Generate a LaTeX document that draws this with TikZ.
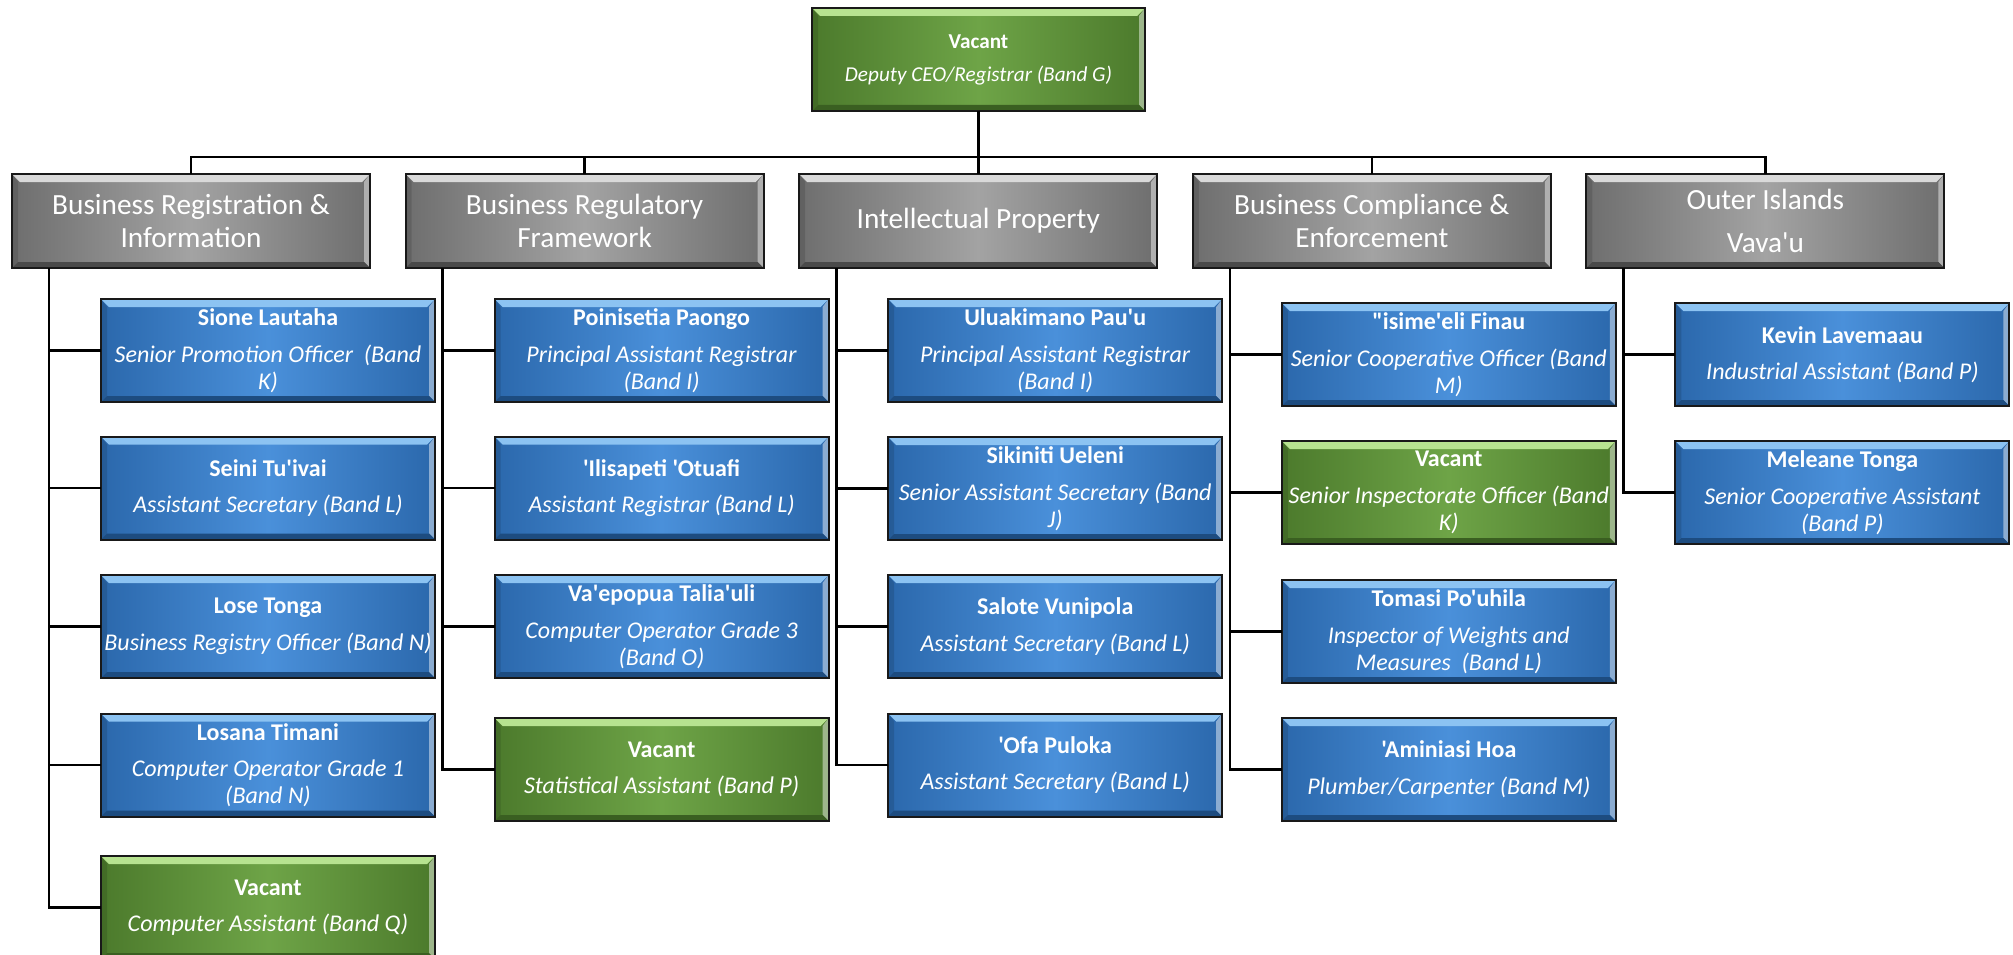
\documentclass[tikz,border=0pt]{standalone}
\usepackage{fontspec}
\setmainfont{Carlito}[Ligatures=TeXOff]
\usetikzlibrary{calc}
\definecolor{blueEdge}{HTML}{2B68AC}
\definecolor{blueMid}{HTML}{4A90DA}
\definecolor{blueTop}{HTML}{8CC3F2}
\definecolor{blueBot}{HTML}{1D4C80}
\definecolor{greenEdge}{HTML}{4C7A2C}
\definecolor{greenMid}{HTML}{6EA447}
\definecolor{greenTop}{HTML}{B7E390}
\definecolor{greenBot}{HTML}{3A5F21}
\definecolor{greyEdge}{HTML}{6E6E6E}
\definecolor{greyMid}{HTML}{A3A3A3}
\definecolor{greyTop}{HTML}{D9D9D9}
\definecolor{greyBot}{HTML}{4A4A4A}
\newcommand{\nm}[1]{\textbf{#1}}
\newcommand{\rl}[1]{\textit{#1}}
\tikzset{
  bev/.style n args={4}{
    rectangle, inner sep=0pt, outer sep=0pt, draw=black!90, line width=2pt,
    left color=#1, right color=#1, middle color=#2,
    text=white, align=center,
    path picture={
      \fill[#3] (path picture bounding box.north west) -- (path picture bounding box.north east)
        -- ([xshift=-8pt,yshift=-8pt]path picture bounding box.north east)
        -- ([xshift=8pt,yshift=-8pt]path picture bounding box.north west) -- cycle;
      \fill[white,opacity=0.45] (path picture bounding box.north east) -- (path picture bounding box.south east)
        -- ([xshift=-6pt,yshift=6pt]path picture bounding box.south east)
        -- ([xshift=-6pt,yshift=-8pt]path picture bounding box.north east) -- cycle;
      \fill[black,opacity=0.12] (path picture bounding box.north west) -- (path picture bounding box.south west)
        -- ([xshift=6pt,yshift=6pt]path picture bounding box.south west)
        -- ([xshift=6pt,yshift=-8pt]path picture bounding box.north west) -- cycle;
      \fill[#4] (path picture bounding box.south west) -- (path picture bounding box.south east)
        -- ([xshift=-6pt,yshift=6pt]path picture bounding box.south east)
        -- ([xshift=6pt,yshift=6pt]path picture bounding box.south west) -- cycle;
    }
  },
  bluebox/.style={bev={blueEdge}{blueMid}{blueTop}{blueBot}, minimum width=334pt, minimum height=103pt,
    font=\fontsize{24}{27}\selectfont},
  greenbox/.style={bev={greenEdge}{greenMid}{greenTop}{greenBot}, minimum width=334pt, minimum height=103pt,
    font=\fontsize{24}{27}\selectfont},
  greybox/.style={bev={greyEdge}{greyMid}{greyTop}{greyBot}, minimum width=358pt, minimum height=94pt,
    font=\fontsize{29.3}{32.5}\selectfont},
  topbox/.style={bev={greenEdge}{greenMid}{greenTop}{greenBot}, minimum width=333pt, minimum height=103pt,
    font=\fontsize{21.2}{25}\selectfont},
  link/.style={draw=black, line width=2.6pt},
}
\begin{document}
\begin{tikzpicture}[x=1pt,y=-1pt]
\fill[white] (0,0) rectangle (2013,955);
\useasboundingbox (0,0) rectangle (2013,955);

% top
\node[topbox] (top) at (978.5,59.5) {\nm{Vacant}\\[8pt]\rl{Deputy CEO/Registrar (Band G)}};

% departments
\node[greybox] (d1) at (191,221) {Business Registration \&\\Information};
\node[greybox] (d2) at (584.6,221) {Business Regulatory\\Framework};
\node[greybox] (d3) at (978.2,221) {Intellectual Property};
\node[greybox] (d4) at (1371.8,221) {Business Compliance \&\\Enforcement};
\node[greybox] (d5) at (1765.4,221) {Outer Islands\\[10pt]Vava'u};

% column 1
\node[bluebox] (p11) at (268,350.5) {\nm{Sione Lautaha}\\[9.5pt]\rl{Senior Promotion Officer\ \ (Band}\\\rl{K)}};
\node[bluebox] (p12) at (268,488) {\nm{Seini Tu'ivai}\\[9.5pt]\rl{Assistant Secretary (Band L)}};
\node[bluebox] (p13) at (268,626.5) {\nm{Lose Tonga}\\[9.5pt]\rl{Business Registry Officer (Band N)}};
\node[bluebox] (p14) at (268,765) {\nm{Losana Timani}\\[9.5pt]\rl{Computer Operator Grade 1}\\\rl{(Band N)}};
\node[greenbox] (p15) at (268,907.5) {\nm{Vacant}\\[9.5pt]\rl{Computer Assistant (Band Q)}};

% column 2
\node[bluebox] (p21) at (661.6,350.5) {\nm{Poinisetia Paongo}\\[9.5pt]\rl{Principal Assistant Registrar}\\\rl{(Band I)}};
\node[bluebox] (p22) at (661.6,488) {\nm{'Ilisapeti 'Otuafi}\\[9.5pt]\rl{Assistant Registrar (Band L)}};
\node[bluebox] (p23) at (661.6,626.5) {\nm{Va'epopua Talia'uli}\\[9.5pt]\rl{Computer Operator Grade 3}\\\rl{(Band O)}};
\node[greenbox] (p24) at (661.6,769.5) {\nm{Vacant}\\[9.5pt]\rl{Statistical Assistant (Band P)}};

% column 3
\node[bluebox] (p31) at (1055.2,350.5) {\nm{Uluakimano Pau'u}\\[9.5pt]\rl{Principal Assistant Registrar}\\\rl{(Band I)}};
\node[bluebox] (p32) at (1055.2,488.5) {\nm{Sikiniti Ueleni}\\[9.5pt]\rl{Senior Assistant Secretary (Band}\\\rl{J)}};
\node[bluebox] (p33) at (1055.2,626.5) {\nm{Salote Vunipola}\\[9.5pt]\rl{Assistant Secretary (Band L)}};
\node[bluebox] (p34) at (1055.2,765) {\nm{'Ofa Puloka}\\[9.5pt]\rl{Assistant Secretary (Band L)}};

% column 4
\node[bluebox] (p41) at (1448.8,354.5) {\nm{"isime'eli Finau}\\[9.5pt]\rl{Senior Cooperative Officer (Band}\\\rl{M)}};
\node[greenbox] (p42) at (1448.8,492.5) {\nm{Vacant}\\[9.5pt]\rl{Senior Inspectorate Officer (Band}\\\rl{K)}};
\node[bluebox] (p43) at (1448.8,631.5) {\nm{Tomasi Po'uhila}\\[9.5pt]\rl{Inspector of Weights and}\\\rl{Measures\ \ (Band L)}};
\node[bluebox] (p44) at (1448.8,769.5) {\nm{'Aminiasi Hoa}\\[9.5pt]\rl{Plumber/Carpenter (Band M)}};

% column 5
\node[bluebox] (p51) at (1842.4,354.5) {\nm{Kevin Lavemaau}\\[9.5pt]\rl{Industrial Assistant (Band P)}};
\node[bluebox] (p52) at (1842.4,492.5) {\nm{Meleane Tonga}\\[9.5pt]\rl{Senior Cooperative Assistant}\\\rl{(Band P)}};

% connectors top -> departments
\foreach \d in {d1,d2,d3,d4,d5}
  \draw[link] (top.south) -- ++(0,-46pt) -| (\d.north);

% spines
\foreach \d/\lst in {d1/{p11,p12,p13,p14,p15}, d2/{p21,p22,p23,p24}, d3/{p31,p32,p33,p34}, d4/{p41,p42,p43,p44}, d5/{p51,p52}}
  \foreach \p in \lst
    \draw[link] ([xshift=37pt]\d.south west) |- (\p.west);
\end{tikzpicture}
\end{document}
